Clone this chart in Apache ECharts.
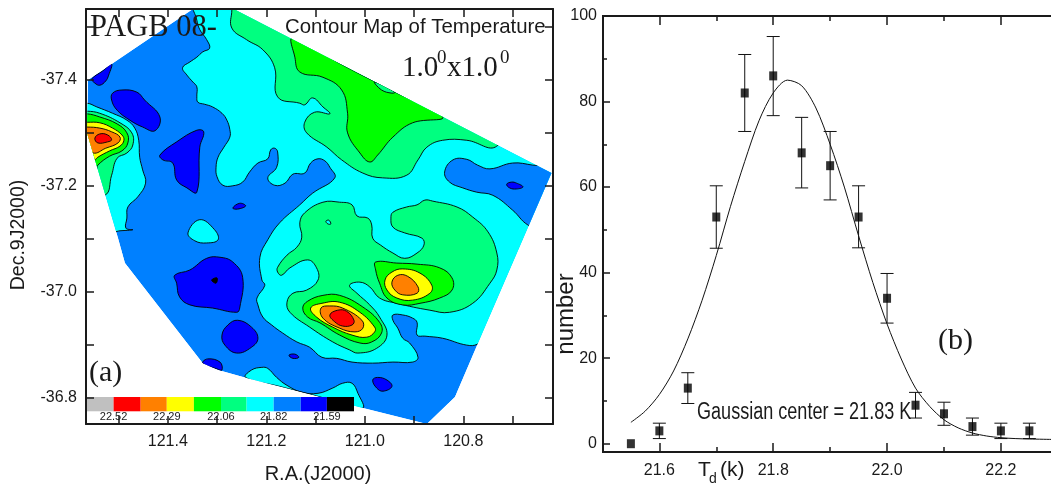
<!DOCTYPE html>
<html><head><meta charset="utf-8">
<style>html,body{margin:0;padding:0;background:#fff}#c{width:1051px;height:486px}</style>
<script src="https://cdn.jsdelivr.net/npm/echarts@6/dist/echarts.min.js"></script>
</head><body><div id="c"></div>
<script>
// ---------- Panel (a): contour map, digitised as flat RA,Dec lists ----------
const levelColors = {gray:'#C0C0C0',red:'#FF0000',orange:'#FF8000',yellow:'#FFFF00',green:'#00FF00',spring:'#00FF80',cyan:'#00FFFF',blue:'#0080FF',deep:'#0000FF',black:'#000000'};
const surveyEdge = [121.562,-37.400,121.349,-37.534,121.266,-37.534,120.621,-37.224,120.771,-36.901,120.817,-36.801,120.874,-36.750,121.004,-36.780,121.106,-36.805,121.240,-36.837,121.298,-36.852,121.329,-36.865,121.487,-37.054,121.501,-37.101,121.564,-37.300];
const cyanMain = [121.347,-37.551,121.341,-37.513,121.335,-37.495,121.321,-37.476,121.315,-37.460,121.329,-37.453,121.341,-37.443,121.355,-37.434,121.370,-37.423,121.361,-37.409,121.349,-37.396,121.341,-37.387,121.341,-37.368,121.339,-37.358,121.325,-37.354,121.309,-37.349,121.290,-37.337,121.280,-37.324,121.274,-37.306,121.274,-37.292,121.286,-37.273,121.298,-37.254,121.302,-37.235,121.300,-37.217,121.288,-37.201,121.268,-37.200,121.248,-37.207,121.234,-37.226,121.217,-37.243,121.197,-37.251,121.191,-37.268,121.183,-37.271,121.177,-37.264,121.179,-37.235,121.197,-37.215,121.183,-37.201,121.162,-37.205,121.146,-37.222,121.122,-37.224,121.110,-37.243,121.095,-37.251,121.081,-37.247,121.071,-37.235,121.061,-37.215,121.106,-37.186,121.132,-37.164,121.173,-37.130,121.197,-37.098,121.213,-37.065,121.209,-37.022,121.203,-37.012,121.219,-36.988,121.217,-36.975,121.207,-36.952,121.189,-36.937,121.167,-36.922,121.138,-36.905,121.112,-36.895,121.087,-36.876,121.057,-36.874,121.026,-36.867,120.984,-36.865,120.943,-36.867,120.903,-36.867,120.892,-36.876,120.909,-36.903,120.923,-36.912,120.933,-36.931,120.943,-36.946,120.943,-36.956,120.923,-36.956,120.903,-36.950,120.894,-36.942,120.894,-36.918,120.878,-36.916,120.842,-36.912,120.793,-36.899,120.771,-36.901,120.604,-36.984,120.523,-37.362,121.132,-37.551];
const blueRight = [120.604,-37.230,120.659,-37.239,120.700,-37.243,120.746,-37.232,120.771,-37.239,120.793,-37.250,120.821,-37.249,120.838,-37.226,120.828,-37.207,120.801,-37.196,120.773,-37.188,120.740,-37.182,120.700,-37.154,120.669,-37.126,120.604,-37.098];
const cyanLeft = [121.619,-37.356,121.564,-37.356,121.544,-37.349,121.512,-37.337,121.483,-37.324,121.467,-37.309,121.459,-37.286,121.457,-37.254,121.451,-37.230,121.445,-37.205,121.461,-37.179,121.481,-37.160,121.483,-37.139,121.485,-37.120,121.471,-37.117,121.497,-37.115,121.518,-37.113,121.619,-37.173];
const cyanIslet = [121.359,-37.111,121.335,-37.136,121.305,-37.117,121.298,-37.098,121.321,-37.092,121.345,-37.096];
const cyanBottom = [121.242,-36.838,121.230,-36.852,121.209,-36.857,121.197,-36.855,121.179,-36.838,121.158,-36.823,121.128,-36.810,121.095,-36.808,121.065,-36.818,121.045,-36.827,121.026,-36.827,121.014,-36.808,121.004,-36.780,121.051,-36.791,121.106,-36.805,121.173,-36.821];
const springUpper = [121.270,-37.551,121.270,-37.532,121.270,-37.498,121.240,-37.476,121.207,-37.457,121.183,-37.423,121.177,-37.368,121.132,-37.356,121.122,-37.353,121.106,-37.366,121.085,-37.349,121.071,-37.336,121.102,-37.339,121.122,-37.320,121.118,-37.300,121.077,-37.273,121.047,-37.249,121.004,-37.224,120.964,-37.215,120.915,-37.220,120.892,-37.249,120.874,-37.273,120.842,-37.286,120.793,-37.286,120.732,-37.275,120.685,-37.362,121.132,-37.551];
const greenUpper = [121.146,-37.479,121.142,-37.443,121.132,-37.415,121.085,-37.405,121.047,-37.381,121.035,-37.337,121.035,-37.300,121.010,-37.262,120.990,-37.245,120.974,-37.258,120.943,-37.292,120.903,-37.319,120.842,-37.330,120.943,-37.379,121.045,-37.428];
const springLens = [120.980,-37.396,120.966,-37.381,120.945,-37.375,120.939,-37.377];
const springCentre = [121.085,-37.169,121.051,-37.169,121.026,-37.164,121.016,-37.143,120.994,-37.139,120.986,-37.126,120.984,-37.101,120.968,-37.088,120.943,-37.073,120.919,-37.063,120.894,-37.073,120.880,-37.088,120.884,-37.101,120.919,-37.111,120.943,-37.122,120.947,-37.139,120.943,-37.150,120.915,-37.160,120.894,-37.164,120.878,-37.173,120.862,-37.171,120.813,-37.160,120.781,-37.141,120.750,-37.113,120.732,-37.073,120.732,-37.041,120.746,-37.016,120.781,-36.978,120.828,-36.961,120.868,-36.965,120.935,-36.978,120.970,-36.988,120.990,-37.009,121.010,-37.018,121.031,-37.012,121.016,-36.997,120.990,-36.975,120.970,-36.952,120.955,-36.918,120.976,-36.893,121.014,-36.884,121.031,-36.890,121.065,-36.905,121.112,-36.933,121.152,-36.961,121.158,-36.980,121.146,-36.997,121.118,-37.003,121.095,-37.022,121.098,-37.045,121.116,-37.060,121.152,-37.045,121.169,-37.031,121.177,-37.037,121.177,-37.046,121.158,-37.069,121.138,-37.084,121.128,-37.103,121.132,-37.130,121.122,-37.149];
const cyanSpeck = [121.079,-37.133,121.073,-37.135,121.069,-37.128,121.075,-37.128];
const greenEast = [120.978,-37.056,120.935,-37.054,120.894,-37.052,120.848,-37.045,120.823,-37.026,120.823,-37.003,120.848,-36.988,120.888,-36.978,120.923,-36.975,120.955,-36.988,120.970,-37.016,120.978,-37.041];
const yellowEast = [120.959,-37.022,120.945,-37.037,120.923,-37.043,120.888,-37.035,120.864,-37.012,120.868,-36.997,120.903,-36.984,120.935,-36.988,120.955,-37.003];
const orangeEast = [120.945,-37.018,120.933,-37.031,120.913,-37.029,120.892,-37.009,120.894,-36.997,120.923,-36.994,120.939,-37.003];
const greenMid = [121.126,-36.969,121.116,-36.982,121.085,-36.993,121.051,-36.993,121.004,-36.971,120.970,-36.942,120.966,-36.922,120.986,-36.905,121.010,-36.903,121.051,-36.918,121.091,-36.941,121.116,-36.952];
const yellowMid = [121.110,-36.969,121.087,-36.978,121.051,-36.980,121.010,-36.961,120.980,-36.933,120.980,-36.924,120.996,-36.914,121.026,-36.918,121.065,-36.933,121.098,-36.952];
const orangeMid = [121.089,-36.969,121.071,-36.973,121.045,-36.969,121.006,-36.946,121.004,-36.931,121.020,-36.924,121.051,-36.931,121.085,-36.950];
const redMid = [121.071,-36.956,121.055,-36.965,121.037,-36.963,121.022,-36.946,121.026,-36.937,121.045,-36.935,121.061,-36.943];
const springWest = [121.599,-37.341,121.564,-37.341,121.538,-37.337,121.497,-37.319,121.473,-37.300,121.471,-37.277,121.483,-37.262,121.503,-37.252,121.514,-37.220,121.528,-37.182,121.599,-37.182];
const greenWest = [121.599,-37.336,121.564,-37.336,121.538,-37.330,121.503,-37.317,121.483,-37.300,121.481,-37.281,121.493,-37.266,121.518,-37.256,121.542,-37.239,121.546,-37.230,121.599,-37.230];
const yellowWest = [121.599,-37.320,121.564,-37.320,121.538,-37.319,121.512,-37.309,121.493,-37.296,121.489,-37.286,121.497,-37.275,121.518,-37.266,121.542,-37.254,121.554,-37.245,121.599,-37.268];
const orangeWest = [121.599,-37.311,121.564,-37.311,121.538,-37.309,121.514,-37.302,121.497,-37.292,121.501,-37.281,121.526,-37.271,121.552,-37.262,121.599,-37.287];
const redWest = [121.548,-37.290,121.538,-37.298,121.522,-37.296,121.514,-37.287,121.522,-37.283,121.542,-37.281];
const deepA = [121.554,-37.402,121.532,-37.417,121.514,-37.430,121.520,-37.409,121.526,-37.398,121.538,-37.390,121.548,-37.394];
const deepB = [121.512,-37.375,121.493,-37.381,121.463,-37.377,121.447,-37.362,121.416,-37.330,121.426,-37.304,121.451,-37.311,121.477,-37.324,121.503,-37.343,121.514,-37.362];
const deepC = [121.416,-37.258,121.382,-37.283,121.341,-37.305,121.327,-37.302,121.335,-37.273,121.341,-37.188,121.361,-37.196,121.382,-37.211,121.390,-37.243,121.410,-37.249];
const deepD = [121.268,-37.158,121.254,-37.167,121.242,-37.162,121.258,-37.156];
const deepE = [121.386,-37.031,121.355,-37.041,121.321,-37.063,121.294,-37.065,121.268,-37.056,121.248,-37.027,121.254,-36.969,121.260,-36.961,121.309,-36.969,121.355,-36.975,121.376,-36.990,121.382,-37.016];
const blackDot = [121.311,-37.022,121.300,-37.026,121.302,-37.016];
const deepF = [121.290,-36.918,121.278,-36.937,121.258,-36.946,121.230,-36.933,121.217,-36.912,121.230,-36.895,121.260,-36.884,121.284,-36.899];
const deepG = [121.329,-36.865,121.319,-36.873,121.294,-36.867,121.290,-36.852,121.300,-36.854];
const deepH = [121.154,-36.880,121.142,-36.882,121.134,-36.876,121.146,-36.874];
const deepI = [120.984,-36.833,120.974,-36.838,120.955,-36.833,120.945,-36.821,120.963,-36.812,120.976,-36.818];
const deepJ = [120.712,-37.203,120.702,-37.207,120.692,-37.205,120.679,-37.198,120.692,-37.194,120.706,-37.196];

const contourLayers = [
  ['cyan',cyanMain],['blue',blueRight],['cyan',cyanLeft],['cyan',cyanIslet],['cyan',cyanBottom],
  ['spring',springUpper],['green',greenUpper],['spring',springLens],['spring',springCentre],['cyan',cyanSpeck],
  ['green',greenEast],['yellow',yellowEast],['orange',orangeEast],
  ['green',greenMid],['yellow',yellowMid],['orange',orangeMid],['red',redMid],
  ['spring',springWest],['green',greenWest],['yellow',yellowWest],['orange',orangeWest],['red',redWest],
  ['deep',deepA],['deep',deepB],['deep',deepC],['deep',deepD],['deep',deepE],['black',blackDot],
  ['deep',deepF],['deep',deepG],['deep',deepH],['deep',deepI],['deep',deepJ]
];
const legendLevels = ['gray','red','orange','yellow','green','spring','cyan','blue','deep','black'];
const legendEdgesRA = [121.566,121.510,121.455,121.402,121.347,121.292,121.240,121.185,121.130,121.077,121.022];
const legendDec = [-36.801,-36.774];
const legendLabels = ['22.52','','22.29','','22.06','','21.82','','21.59',''];

const raTicks = [121.5,121.4,121.3,121.2,121.1,121.0,120.9,120.8,120.7];
const raLabels = [121.4,121.2,121.0,120.8];
const decTicks = [-37.5,-37.4,-37.3,-37.2,-37.1,-37.0,-36.9,-36.8];
const decLabels = [-37.4,-37.2,-37.0,-36.8];

// ---------- Panel (b): histogram and Gaussian fit ----------
const tempBins = [21.55,21.6,21.65,21.7,21.75,21.8,21.85,21.9,21.95,22.0,22.05,22.1,22.15,22.2,22.25];
const counts   = [0,3,13,53,82,86,68,65,53,34,9,7,4,3,3];
const errLow   = [0,1.2,9.4,45.7,73,76.7,59.8,57,45.8,28.2,6,4.3,2,1.2,1.2];
const errHigh  = [0,4.8,16.6,60.3,91,95.2,76.3,73,60.3,39.8,12,9.7,6,4.8,4.8];
const fitX = [21.55,21.575,21.6,21.625,21.65,21.675,21.7,21.725,21.75,21.775,21.8,21.825,21.85,21.875,21.9,21.925,21.95,21.975,22.0,22.025,22.05,22.075,22.1,22.125,22.15,22.175,22.2,22.225,22.25,22.29];
const fitY = [5,7.6,11.5,17,24.5,33.5,44,55.5,66,75.5,82,85,83.7,78.5,70,60,48.6,37.7,28,19.8,13,8.7,5.6,3.7,2.5,1.8,1.4,1.2,1.1,1];
const tMajor = [21.6,21.8,22.0,22.2];
const tMinor = [21.7,21.9,22.1];
const nMajor = [0,20,40,60,80,100];
const nMinor = [10,30,50,70,90];

const ink = '#1a1a1a';
const sans = '"Liberation Sans", Arial, sans-serif';
const serif = '"Liberation Serif", "Times New Roman", serif';

function pts(api, flat){ const r=[]; for(let i=0;i<flat.length;i+=2) r.push(api.coord([flat[i],flat[i+1]])); return r; }
function renderMap(params, api){
  const outer = pts(api, surveyEdge);
  const children = [{type:'polygon',shape:{points:outer},style:{fill:levelColors.blue,stroke:null}}];
  contourLayers.forEach(l=>children.push({type:'polygon',shape:{points:pts(api,l[1]),smooth:0.42},
    style:{fill:levelColors[l[0]],stroke:'#000',lineWidth:0.9}}));
  return {type:'group',children:[{type:'group',clipPath:{type:'polygon',shape:{points:outer}},children}]};
}
function renderLegend(params, api){
  const children=[];
  legendLevels.forEach((k,i)=>{
    const a=api.coord([legendEdgesRA[i],legendDec[0]]), b=api.coord([legendEdgesRA[i+1],legendDec[1]]);
    children.push({type:'rect',shape:{x:a[0],y:a[1],width:b[0]-a[0],height:b[1]-a[1]},style:{fill:levelColors[k]}});
    if(legendLabels[i]) children.push({type:'text',x:b[0],y:b[1]+5.5,style:{text:legendLabels[i],fill:ink,font:'11px '+sans,align:'center',verticalAlign:'middle'}});
  });
  return {type:'group',children};
}
function renderErr(params, api){
  const x=api.value(0), lo=api.coord([x,api.value(1)]), hi=api.coord([x,api.value(2)]);
  const cap=6.5, s={stroke:'#111',lineWidth:1,fill:null};
  return {type:'group',children:[
    {type:'line',shape:{x1:lo[0],y1:lo[1],x2:hi[0],y2:hi[1]},style:s},
    {type:'line',shape:{x1:lo[0]-cap,y1:lo[1],x2:lo[0]+cap,y2:lo[1]},style:s},
    {type:'line',shape:{x1:hi[0]-cap,y1:hi[1],x2:hi[0]+cap,y2:hi[1]},style:s}]};
}
const lineSt = w=>({show:true,onZero:false,lineStyle:{color:ink,width:w}});
function axis(o){
  const a = {type:'value',gridIndex:o.grid,position:o.pos,min:o.min,max:o.max,inverse:!!o.inverse,z:6,
    axisLine:lineSt(o.w||2),splitLine:{show:false},
    axisTick:{show:true,inside:true,length:o.len,customValues:o.ticks,lineStyle:{color:ink,width:o.tw||1.5}},
    axisLabel:o.labels?{show:true,customValues:o.labels,margin:o.margin,color:ink,fontFamily:sans,fontSize:o.fs,formatter:o.fmt,hideOverlap:false,showMinLabel:true,showMaxLabel:true}:{show:false}};
  return a;
}
const raRange={min:120.618,max:121.566}, decRange={min:-37.534,max:-36.75};
const tRange={min:21.501,max:22.288}, nRange={min:-1.94,max:100};

const textEl=(x,y,text,font,extra)=>Object.assign({type:'text',x,y,z:20,silent:true,style:{text,fill:ink,font,align:'left',verticalAlign:'middle'}},extra||{});

const option={
  animation:false,
  grid:[{left:86,top:9,width:467,height:415},{left:603,top:16,width:448,height:436}],
  xAxis:[
    axis({grid:0,pos:'bottom',...raRange,inverse:true,len:8,ticks:raTicks,labels:raLabels,margin:10,fs:16,fmt:v=>Number(v).toFixed(1)}),
    axis({grid:0,pos:'top',...raRange,inverse:true,len:8,ticks:raTicks}),
    axis({grid:1,pos:'bottom',...tRange,len:9,ticks:tMajor,labels:tMajor,margin:11,fs:16,fmt:v=>Number(v).toFixed(1)}),
    axis({grid:1,pos:'bottom',...tRange,len:5,ticks:tMinor}),
    axis({grid:1,pos:'top',...tRange,len:9,ticks:tMajor}),
    axis({grid:1,pos:'top',...tRange,len:5,ticks:tMinor})
  ],
  yAxis:[
    axis({grid:0,pos:'left',...decRange,inverse:true,len:8,ticks:decTicks,labels:decLabels,margin:9,fs:16,fmt:v=>Number(v).toFixed(1)}),
    axis({grid:0,pos:'right',...decRange,inverse:true,len:8,ticks:decTicks}),
    axis({grid:1,pos:'left',...nRange,len:7,ticks:nMajor,labels:nMajor,margin:6,fs:16,fmt:v=>String(v)}),
    axis({grid:1,pos:'left',...nRange,len:4,ticks:nMinor})
  ],
  series:[
    {type:'custom',xAxisIndex:0,yAxisIndex:0,renderItem:renderMap,data:[0],silent:true,clip:false,z:2},
    {type:'custom',xAxisIndex:0,yAxisIndex:0,renderItem:renderLegend,data:[0],silent:true,clip:false,z:3},
    {type:'line',xAxisIndex:2,yAxisIndex:2,data:fitX.map((x,i)=>[x,fitY[i]]),smooth:0.3,showSymbol:false,lineStyle:{color:'#111',width:1},silent:true,z:2},
    {type:'custom',xAxisIndex:2,yAxisIndex:2,renderItem:renderErr,encode:{x:0,y:[1,2]},
      data:tempBins.map((x,i)=>[x,errLow[i],errHigh[i]]).filter(d=>d[2]>d[1]),silent:true,z:3},
    {type:'scatter',xAxisIndex:2,yAxisIndex:2,data:tempBins.map((x,i)=>[x,counts[i]]),symbol:'rect',symbolSize:[8,9],itemStyle:{color:'#000'},silent:true,z:4}
  ],
  graphic:[
    textEl(90,28,'PAGB 08-','30.5px '+serif),
    textEl(285,27,'Contour Map of Temperature','20.4px '+sans),
    textEl(402,68,'1.0','29px '+serif),
    textEl(437,58,'0','19px '+serif),
    textEl(447,68,'x1.0','29px '+serif),
    textEl(500,58,'0','19px '+serif),
    textEl(89,373,'(a)','30px '+serif),
    textEl(938,341,'(b)','30px '+serif),
    {type:'text',x:318,y:474,z:20,silent:true,style:{text:'R.A.(J2000)',fill:ink,font:'20px '+sans,align:'center',verticalAlign:'middle'}},
    {type:'text',x:19,y:235,rotation:Math.PI/2,z:20,silent:true,style:{text:'Dec.9J2000)',fill:ink,font:'19.5px '+sans,align:'center',verticalAlign:'middle'}},
    {type:'text',x:566,y:314,rotation:Math.PI/2,z:20,silent:true,style:{text:'number',fill:ink,font:'24px '+sans,align:'center',verticalAlign:'middle'}},
    textEl(697,413,'Gaussian center = 21.83 K','23px '+sans,{scaleX:0.785,originX:0}),
    textEl(698,470,'T','21px '+sans),
    textEl(709,479,'d','14px '+sans),
    textEl(720,470,'(k)','21px '+sans)
  ]
};
const chart=echarts.init(document.getElementById('c'),null,{renderer:'canvas'});
chart.setOption(option);
</script></body></html>
